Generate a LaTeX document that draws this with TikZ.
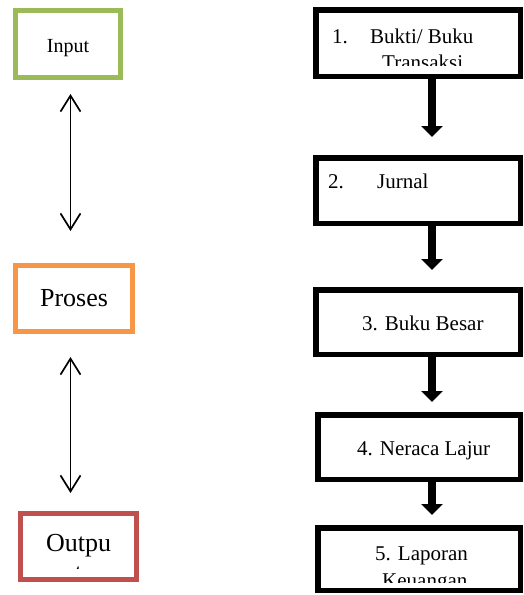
\documentclass[tikz,border=0pt]{standalone}
\usepackage{fontspec}
\setmainfont{Liberation Serif}
\usetikzlibrary{arrows.meta}
\definecolor{cgreen}{HTML}{9BBB59}
\definecolor{corange}{HTML}{F79646}
\definecolor{cred}{HTML}{C0504D}
\tikzset{
  lbox/.style={draw, line width=5pt, inner sep=0pt, fill=white},
  rbox/.style={draw=black, line width=5.5pt, inner sep=0pt, minimum width=204.5pt},
  rtext/.style={anchor=base west, inner sep=0pt, font=\fontsize{21}{24}\selectfont},
  bigarrow/.style={line width=8pt, -{Triangle[width=21pt,length=11pt]}},
  dblarrow/.style={line width=1.7pt, {Straight Barb[width=20pt,length=16pt,line width=1.7pt]}-{Straight Barb[width=20pt,length=16pt,line width=1.7pt]}},
}
\begin{document}
\begin{tikzpicture}[x=1pt,y=-1pt]
\useasboundingbox (0,0) rectangle (524,595);
% left boxes
\node[lbox, draw=cgreen, minimum width=105pt, minimum height=67pt] (in) at (68,44) {};
\node[anchor=base, inner sep=0pt, font=\fontsize{20}{23}\selectfont] (intext) at (68,52) {Input};
\node[lbox, draw=corange, minimum width=117pt, minimum height=66pt, font=\fontsize{26}{30}\selectfont] (pr) at (74,298.5) {Proses};
\node[lbox, draw=cred, minimum width=116pt, minimum height=66pt] (out) at (78.5,546.5) {};
\node[anchor=base, inner sep=0pt, font=\fontsize{26}{30}\selectfont] (outa) at (78.5,551) {Outpu};
\begin{scope}
\clip (20,513) rectangle (136,568);
\node[anchor=base, inner sep=0pt, font=\fontsize{26}{30}\selectfont] (outb) at (78.5,581) {t};
\end{scope}
% left double arrows
\draw[dblarrow, shorten <=14pt, shorten >=32pt] ([xshift=2.5pt]in.south) -- ([xshift=-3.5pt]pr.north);
\draw[dblarrow, shorten <=23pt, shorten >=18pt] ([xshift=-3.5pt]pr.south) -- ([xshift=-8pt]out.north);
% right boxes
\node[rbox, minimum height=66.5pt] (b1) at (418,43) {};
\node[rbox, minimum height=65.5pt] (b2) at (418,190.5) {};
\node[rbox, minimum height=64.5pt] (b3) at (418,322) {};
\node[rbox, minimum width=202.5pt, minimum height=64.5pt] (b4) at (419,447) {};
\node[rbox, minimum width=202.5pt, minimum height=62.5pt] (b5) at (419,559) {};
% texts
\node[rtext] (t1a) at (332,43) {1.};
\node[rtext] (t1b) at (370,43) {Bukti/ Buku};
\begin{scope}
\clip (318,10) rectangle (518,65);
\node[rtext] (t1c) at (382,69) {Transaksi};
\end{scope}
\node[rtext] (t2a) at (328,188) {2.};
\node[rtext] (t2b) at (377,188) {Jurnal};
\node[rtext] (t3) at (362,330) {3. Buku Besar};
\node[rtext] (t4) at (357,455) {4. Neraca Lajur};
\node[rtext] (t5a) at (375,560) {5. Laporan};
\begin{scope}
\clip (320,530) rectangle (518,582);
\node[rtext] (t5b) at (382,587) {Keuangan};
\end{scope}
% thick arrows
\draw[bigarrow, shorten >=18pt] ([xshift=14pt]b1.south) -- ([xshift=14pt]b2.north);
\draw[bigarrow, shorten >=17pt] ([xshift=14pt]b2.south) -- ([xshift=14pt]b3.north);
\draw[bigarrow, shorten >=10pt] ([xshift=14pt]b3.south) -- ([xshift=13pt]b4.north);
\draw[bigarrow, shorten >=10pt] ([xshift=13pt]b4.south) -- ([xshift=13pt]b5.north);
\end{tikzpicture}
\end{document}
